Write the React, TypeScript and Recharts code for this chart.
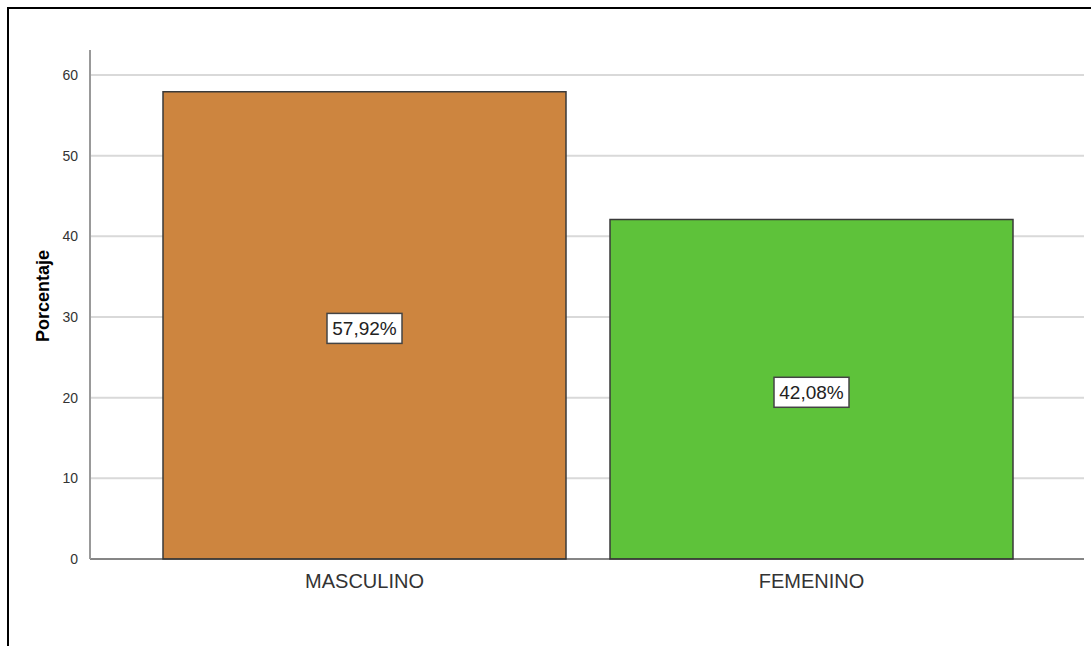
import { Bar, BarChart, CartesianGrid, Cell, LabelList, XAxis, YAxis } from "recharts"

const categories = ["MASCULINO", "FEMENINO"]
const percentages = [57.92, 42.08]
const barColors = ["#CD853F", "#5EC23A"]
const yTicks = [0, 10, 20, 30, 40, 50, 60]

const data = categories.map((name, i) => ({ name, value: percentages[i] }))

const fmt = (v: number) => v.toFixed(2).replace(".", ",") + "%"

function ValueBox(props: any) {
    const { x, y, width, height, value } = props
    const cx = x + width / 2
    const cy = y + height / 2 + 3
    const w = 75
    const h = 30
    return (
        <g>
            <rect x={cx - w / 2} y={cy - h / 2} width={w} height={h} fill="#fff" stroke="#444" strokeWidth={1.5} />
            <text x={cx} y={cy} dy="0.36em" textAnchor="middle" fontSize={19} fill="#222" fontFamily="Liberation Sans, Arial, sans-serif">
                {fmt(value)}
            </text>
        </g>
    )
}

export default function App() {
    return (
        <div style={{ position: "absolute", left: 0, top: 0, width: 1091, height: 646, background: "#fff", overflow: "hidden" }}>
            <div style={{ position: "absolute", left: 7, top: 7, width: 1100, height: 700, borderTop: "2px solid #000", borderLeft: "2px solid #000" }} />
            <div style={{ position: "absolute", left: 0, top: 0 }}>
                <BarChart width={1091} height={646} data={data} margin={{ top: 50, right: 7, bottom: 57, left: 0 }}>
                    <CartesianGrid vertical={false} horizontalValues={yTicks} stroke="#d9d9d9" strokeWidth={2} />
                    <XAxis
                        dataKey="name"
                        height={30}
                        padding={{ left: 51, right: 49 }}
                        tickLine={false}
                        stroke="#333"
                        tick={{ fill: "#333", fontSize: 20, fontFamily: "Liberation Sans, Arial, sans-serif" }}
                        tickMargin={9}
                    />
                    <YAxis
                        width={90}
                        domain={[0, 63.1]}
                        ticks={yTicks}
                        tickLine={false}
                        stroke="#999"
                        strokeWidth={2}
                        tick={{ fill: "#333", fontSize: 14, fontFamily: "Liberation Sans, Arial, sans-serif" }}
                        tickMargin={6}
                        label={{
                            value: "Porcentaje",
                            content: () => (
                                <text
                                    x={43}
                                    y={296}
                                    transform="rotate(-90 43 296)"
                                    textAnchor="middle"
                                    dy="0.36em"
                                    fontSize={18}
                                    fontWeight="bold"
                                    fill="#000"
                                    fontFamily="Liberation Sans, Arial, sans-serif"
                                >
                                    Porcentaje
                                </text>
                            ),
                        }}
                    />
                    <Bar dataKey="value" barSize={403} stroke="#3a3a3a" strokeWidth={1.5} isAnimationActive={false}>
                        {data.map((d, i) => (
                            <Cell key={d.name} fill={barColors[i]} />
                        ))}
                        <LabelList dataKey="value" content={ValueBox} />
                    </Bar>
                </BarChart>
            </div>
        </div>
    )
}
